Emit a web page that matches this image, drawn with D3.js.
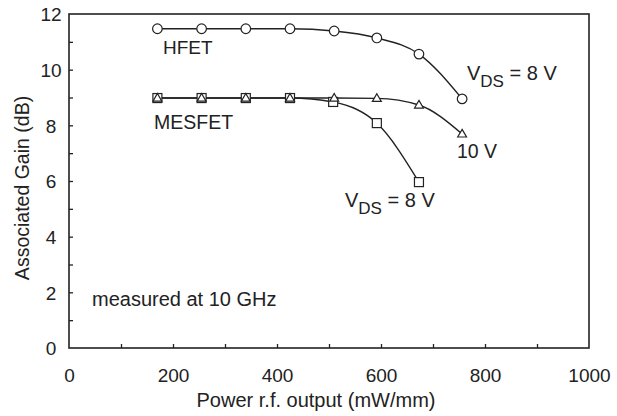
<!DOCTYPE html>
<html><head><meta charset="utf-8">
<script src="https://cdn.jsdelivr.net/npm/d3@7"></script>
<style>
html,body{margin:0;padding:0;background:#fff;}
svg{display:block;font-family:"Liberation Sans",Arial,sans-serif;}
</style></head>
<body>
<svg id="c" width="617" height="416"></svg>
<script>
const hfetX = [170, 255, 340, 425, 510, 592, 673, 756];
const hfetY = [11.47, 11.47, 11.47, 11.47, 11.39, 11.14, 10.56, 8.95];
const mes10X = [170, 255, 340, 425, 510, 592, 673, 756];
const mes10Y = [8.98, 8.98, 8.98, 8.98, 8.98, 8.97, 8.73, 7.69];
const mes8X = [170, 255, 340, 425, 508, 592, 673];
const mes8Y = [8.98, 8.98, 8.98, 8.98, 8.84, 8.08, 5.96];
const xTickLabels = [0, 200, 400, 600, 800, 1000];
const yTickLabels = [0, 2, 4, 6, 8, 10, 12];
const xMinorTicks = d3.range(100, 1000, 100);
const yMinorTicks = d3.range(1, 12, 1);

const svg = d3.select("#c");
const ink = "#222";
const x = d3.scaleLinear().domain([0, 1000]).range([69, 589]);
const y = d3.scaleLinear().domain([0, 12]).range([348, 14]);

// frame
svg.append("rect").attr("x", x(0)).attr("y", y(12))
  .attr("width", x(1000) - x(0)).attr("height", y(0) - y(12))
  .attr("fill", "none").attr("stroke", ink).attr("stroke-width", 1.6);

// ticks (inward)
svg.append("g").attr("transform", `translate(0,${y(0)})`)
  .call(d3.axisBottom(x).tickValues(xMinorTicks).tickSize(-4).tickFormat(""))
  .call(g => { g.select(".domain").remove(); g.selectAll("line").attr("stroke", ink).attr("stroke-width", 1.3); });
svg.append("g").attr("transform", `translate(${x(0)},0)`)
  .call(d3.axisLeft(y).tickValues(yMinorTicks).tickSize(-4).tickFormat(""))
  .call(g => { g.select(".domain").remove(); g.selectAll("line").attr("stroke", ink).attr("stroke-width", 1.3); });

// tick labels
svg.append("g").attr("transform", `translate(0,${y(0)})`)
  .call(d3.axisBottom(x).tickValues(xTickLabels).tickSize(0).tickPadding(0).tickFormat(d3.format("d")))
  .call(g => { g.select(".domain").remove();
    g.selectAll("text").attr("font-size", 19).attr("fill", ink).attr("font-family", null)
     .attr("y", 34).attr("dy", null); });
svg.append("g").attr("transform", `translate(51,0)`)
  .call(d3.axisLeft(y).tickValues(yTickLabels).tickSize(0).tickPadding(0).tickFormat(d3.format("d")))
  .call(g => { g.select(".domain").remove();
    g.selectAll("text").attr("font-size", 19).attr("fill", ink).attr("font-family", null)
     .attr("text-anchor", "middle").attr("x", 0).attr("dy", "0.36em"); });

// axis titles
svg.append("text").attr("x", 316).attr("y", 407).attr("text-anchor", "middle")
  .attr("font-size", 20).attr("fill", ink).text("Power r.f. output (mW/mm)");
svg.append("text").attr("transform", "translate(29,188) rotate(-90)").attr("text-anchor", "middle")
  .attr("font-size", 19.5).attr("fill", ink).text("Associated Gain (dB)");

// lines
const line = d3.line().x(d => x(d[0])).y(d => y(d[1])).curve(d3.curveMonotoneX);
const series = [
  { xs: mes8X, ys: mes8Y, m: "square" },
  { xs: mes10X, ys: mes10Y, m: "triangle" },
  { xs: hfetX, ys: hfetY, m: "circle" }
];
series.forEach(s => {
  const pts = s.xs.map((v, i) => [v, s.ys[i]]);
  svg.append("path").datum(pts).attr("d", line).attr("fill", "none")
    .attr("stroke", ink).attr("stroke-width", 1.4);
});
series.forEach(s => {
  const pts = s.xs.map((v, i) => [v, s.ys[i]]);
  const g = svg.append("g");
  pts.forEach(p => {
    const cx = x(p[0]), cy = y(p[1]);
    if (s.m === "circle") {
      g.append("circle").attr("cx", cx).attr("cy", cy).attr("r", 4.8)
        .attr("fill", "#fff").attr("stroke", ink).attr("stroke-width", 1.2);
    } else if (s.m === "square") {
      g.append("rect").attr("x", cx - 4.5).attr("y", cy - 4.5).attr("width", 9).attr("height", 9)
        .attr("fill", "#fff").attr("stroke", ink).attr("stroke-width", 1.2);
    } else {
      g.append("path").attr("d", d3.symbol().type(d3.symbolTriangle).size(34)())
        .attr("transform", `translate(${cx},${cy + 0.5})`)
        .attr("fill", "#fff").attr("stroke", ink).attr("stroke-width", 1.2);
    }
  });
});

// annotations
function label(xp, yp, txt, size) {
  svg.append("text").attr("x", xp).attr("y", yp).attr("font-size", size || 19).attr("fill", ink).text(txt);
}
label(163, 54, "HFET");
label(154, 129, "MESFET", 19.5);
label(457, 158, "10 V", 19.5);
label(92, 306, "measured at 10 GHz", 20);
function vds(xp, yp) {
  const t = svg.append("text").attr("x", xp).attr("y", yp).attr("font-size", 20).attr("fill", ink);
  t.append("tspan").text("V");
  t.append("tspan").attr("font-size", 17).attr("dy", 7).text("DS");
  t.append("tspan").attr("dy", -7).text(" = 8 V");
}
vds(467, 80);
vds(345, 207);
</script>
</body></html>
